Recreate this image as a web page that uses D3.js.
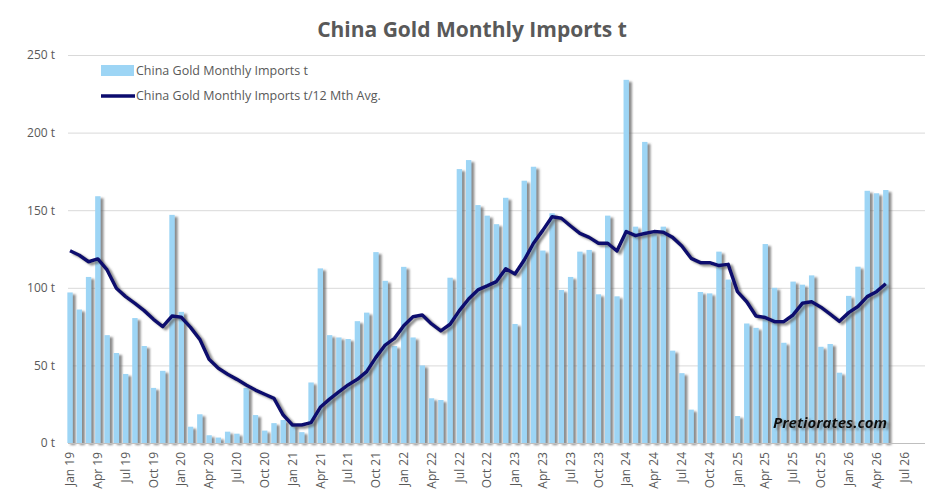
<!DOCTYPE html>
<html>
<head>
<meta charset="utf-8">
<script src="https://cdn.jsdelivr.net/npm/d3@7"></script>
<style>
  body { margin: 0; background: #fff; }
  svg { display: block; }
  text { font-family: "Open Sans", sans-serif; }
</style>
</head>
<body>
<div class="chart"></div>
<script>
// monthly categories Jan 19 .. Sep 26 (axis runs a bit past the data)
const months = d3.timeMonth.range(new Date(2019, 0, 1), new Date(2026, 9, 1));
const fmt = d3.timeFormat("%b %y");
const categories = months.map(d => fmt(d));

// tick labels shown on the x axis (every 3rd month)
const tickLabels = categories.filter((c, i) => i % 3 === 0 && i <= 90);

// China gold monthly imports, tonnes (Jan 19 .. May 26)
const imports = [
  97, 86, 107, 159, 69.5, 58, 44.5, 80.5, 62.5, 35.5, 46.5, 147,
  84.5, 10.5, 18.5, 5, 3.5, 7.3, 6, 35.5, 18, 8, 12.8, 14.8,
  12, 7, 39, 112.5, 69.5, 68, 67, 78.5, 84, 123, 104.5, 62.5,
  113.5, 68, 50, 28.8, 27.7, 106.5, 176.5, 182.3, 153.3, 146.5, 141, 158,
  76.7, 169, 178, 124, 148, 98.6, 107, 123.3, 124.4, 95.8, 146.5, 94.5,
  234, 139.4, 194, 135, 139.4, 59.5, 45, 21.5, 97.3, 96.4, 123.3, 105.3,
  17.4, 77, 74.2, 128.2, 100, 64.6, 104, 102, 108, 62, 63.8, 45.3,
  94.8, 113.6, 162.5, 160.9, 163
];

// 12 month average
const avg12 = [
  123.9, 121, 116.8, 118.6, 111.5, 99.7, 94.3, 90, 85.3, 79.7, 75, 81.8,
  81, 74.5, 66.8, 53.9, 48.1, 44.3, 41, 37.4, 34.1, 31.4, 28.8, 18,
  11.6, 11.6, 13.1, 23, 28.3, 33, 37.4, 41, 46, 55.2, 63.1, 67.4,
  75.6, 81.4, 82.5, 76.7, 72.2, 76.5, 85.3, 92.8, 98.6, 101.2, 104, 112.3,
  108.9, 117.9, 128.7, 137, 145.8, 144.8, 139.8, 135, 132.5, 128.7, 128.7, 123.7,
  136.2, 133.6, 135, 136.2, 135.8, 132.5, 126.9, 119, 116.2, 116.2, 114.3, 115.1,
  97.5, 91, 81.8, 80.8, 78.2, 78.2, 82.5, 90, 91, 87.5, 83, 78.4,
  84, 88, 94.3, 97.5, 102.6
];

const yTicks = [0, 50, 100, 150, 200, 250];

const w = 945, h = 495;
const barColor = "#9dd5f5", lineColor = "#0b0b6e", textColor = "#595959";

const svg = d3.select(".chart").append("svg").attr("width", w).attr("height", h);

const defs = svg.append("defs");
const shadow = defs.append("filter").attr("id", "shadow")
  .attr("x", "-20%").attr("y", "-20%").attr("width", "140%").attr("height", "140%");
shadow.append("feDropShadow")
  .attr("dx", 3).attr("dy", 2).attr("stdDeviation", 0.9)
  .attr("flood-color", "#666").attr("flood-opacity", 0.75);

const x = d3.scaleBand().domain(categories).range([65.4, 927.5]).paddingInner(0.42).paddingOuter(0.21);
const y = d3.scaleLinear().domain([0, 250]).range([443, 55]);
const cx = c => x(c) + x.bandwidth() / 2;

// title
svg.append("text")
  .attr("x", 472).attr("y", 37)
  .attr("text-anchor", "middle")
  .attr("font-size", 21).attr("font-weight", 700)
  .attr("fill", textColor)
  .text("China Gold Monthly Imports t");

// gridlines + y labels
const yAxis = svg.append("g")
  .attr("transform", "translate(68,0)")
  .call(d3.axisLeft(y).tickValues(yTicks).tickSize(-857).tickPadding(13).tickFormat(d => d + " t"));
yAxis.select(".domain").remove();
yAxis.selectAll(".tick line").attr("stroke", "#d9d9d9").attr("stroke-width", 1);
yAxis.selectAll(".tick text").attr("font-size", 12).attr("fill", textColor)
  .attr("font-family", "Open Sans, sans-serif");

// bars
svg.append("g").attr("filter", "url(#shadow)")
  .selectAll("rect")
  .data(imports)
  .enter()
  .append("rect")
  .attr("x", (d, i) => x(categories[i]))
  .attr("y", d => y(d))
  .attr("width", x.bandwidth())
  .attr("height", d => y(0) - y(d))
  .attr("fill", barColor);

// x axis
const xAxis = svg.append("g")
  .attr("transform", "translate(0,443)")
  .call(d3.axisBottom(x).tickValues(tickLabels).tickSize(0).tickPadding(8));
xAxis.select(".domain").attr("stroke", "#bfbfbf").attr("d", "M68,0.5H925");
xAxis.selectAll(".tick text")
  .attr("font-size", 12).attr("fill", textColor)
  .attr("font-family", "Open Sans, sans-serif")
  .attr("text-anchor", "end")
  .attr("transform", "rotate(-90)")
  .attr("x", -9).attr("y", 0).attr("dy", "0.35em");

// 12 month average line
const line = d3.line()
  .x((d, i) => cx(categories[i]))
  .y(d => y(d));
svg.append("path")
  .datum(avg12)
  .attr("d", line)
  .attr("fill", "none")
  .attr("stroke", lineColor)
  .attr("stroke-width", 3.5)
  .attr("stroke-linejoin", "round")
  .attr("filter", "url(#shadow)");

// legend
const legend = svg.append("g");
legend.append("rect").attr("x", 101).attr("y", 65).attr("width", 33).attr("height", 11).attr("fill", barColor);
legend.append("text").attr("x", 136).attr("y", 71).attr("dy", "0.35em")
  .attr("font-size", 12.5).attr("fill", textColor).text("China Gold Monthly Imports t");
legend.append("line").attr("x1", 101).attr("x2", 135).attr("y1", 96).attr("y2", 96)
  .attr("stroke", lineColor).attr("stroke-width", 3.5);
legend.append("text").attr("x", 136).attr("y", 96).attr("dy", "0.35em")
  .attr("font-size", 12.5).attr("fill", textColor).text("China Gold Monthly Imports t/12 Mth Avg.");

// watermark
svg.append("text")
  .attr("x", 887).attr("y", 428)
  .attr("text-anchor", "end")
  .attr("font-size", 15).attr("font-weight", 700).attr("font-style", "italic")
  .attr("fill", "#111")
  .attr("filter", "url(#shadow)")
  .text("Pretiorates.com");
</script>
</body>
</html>
